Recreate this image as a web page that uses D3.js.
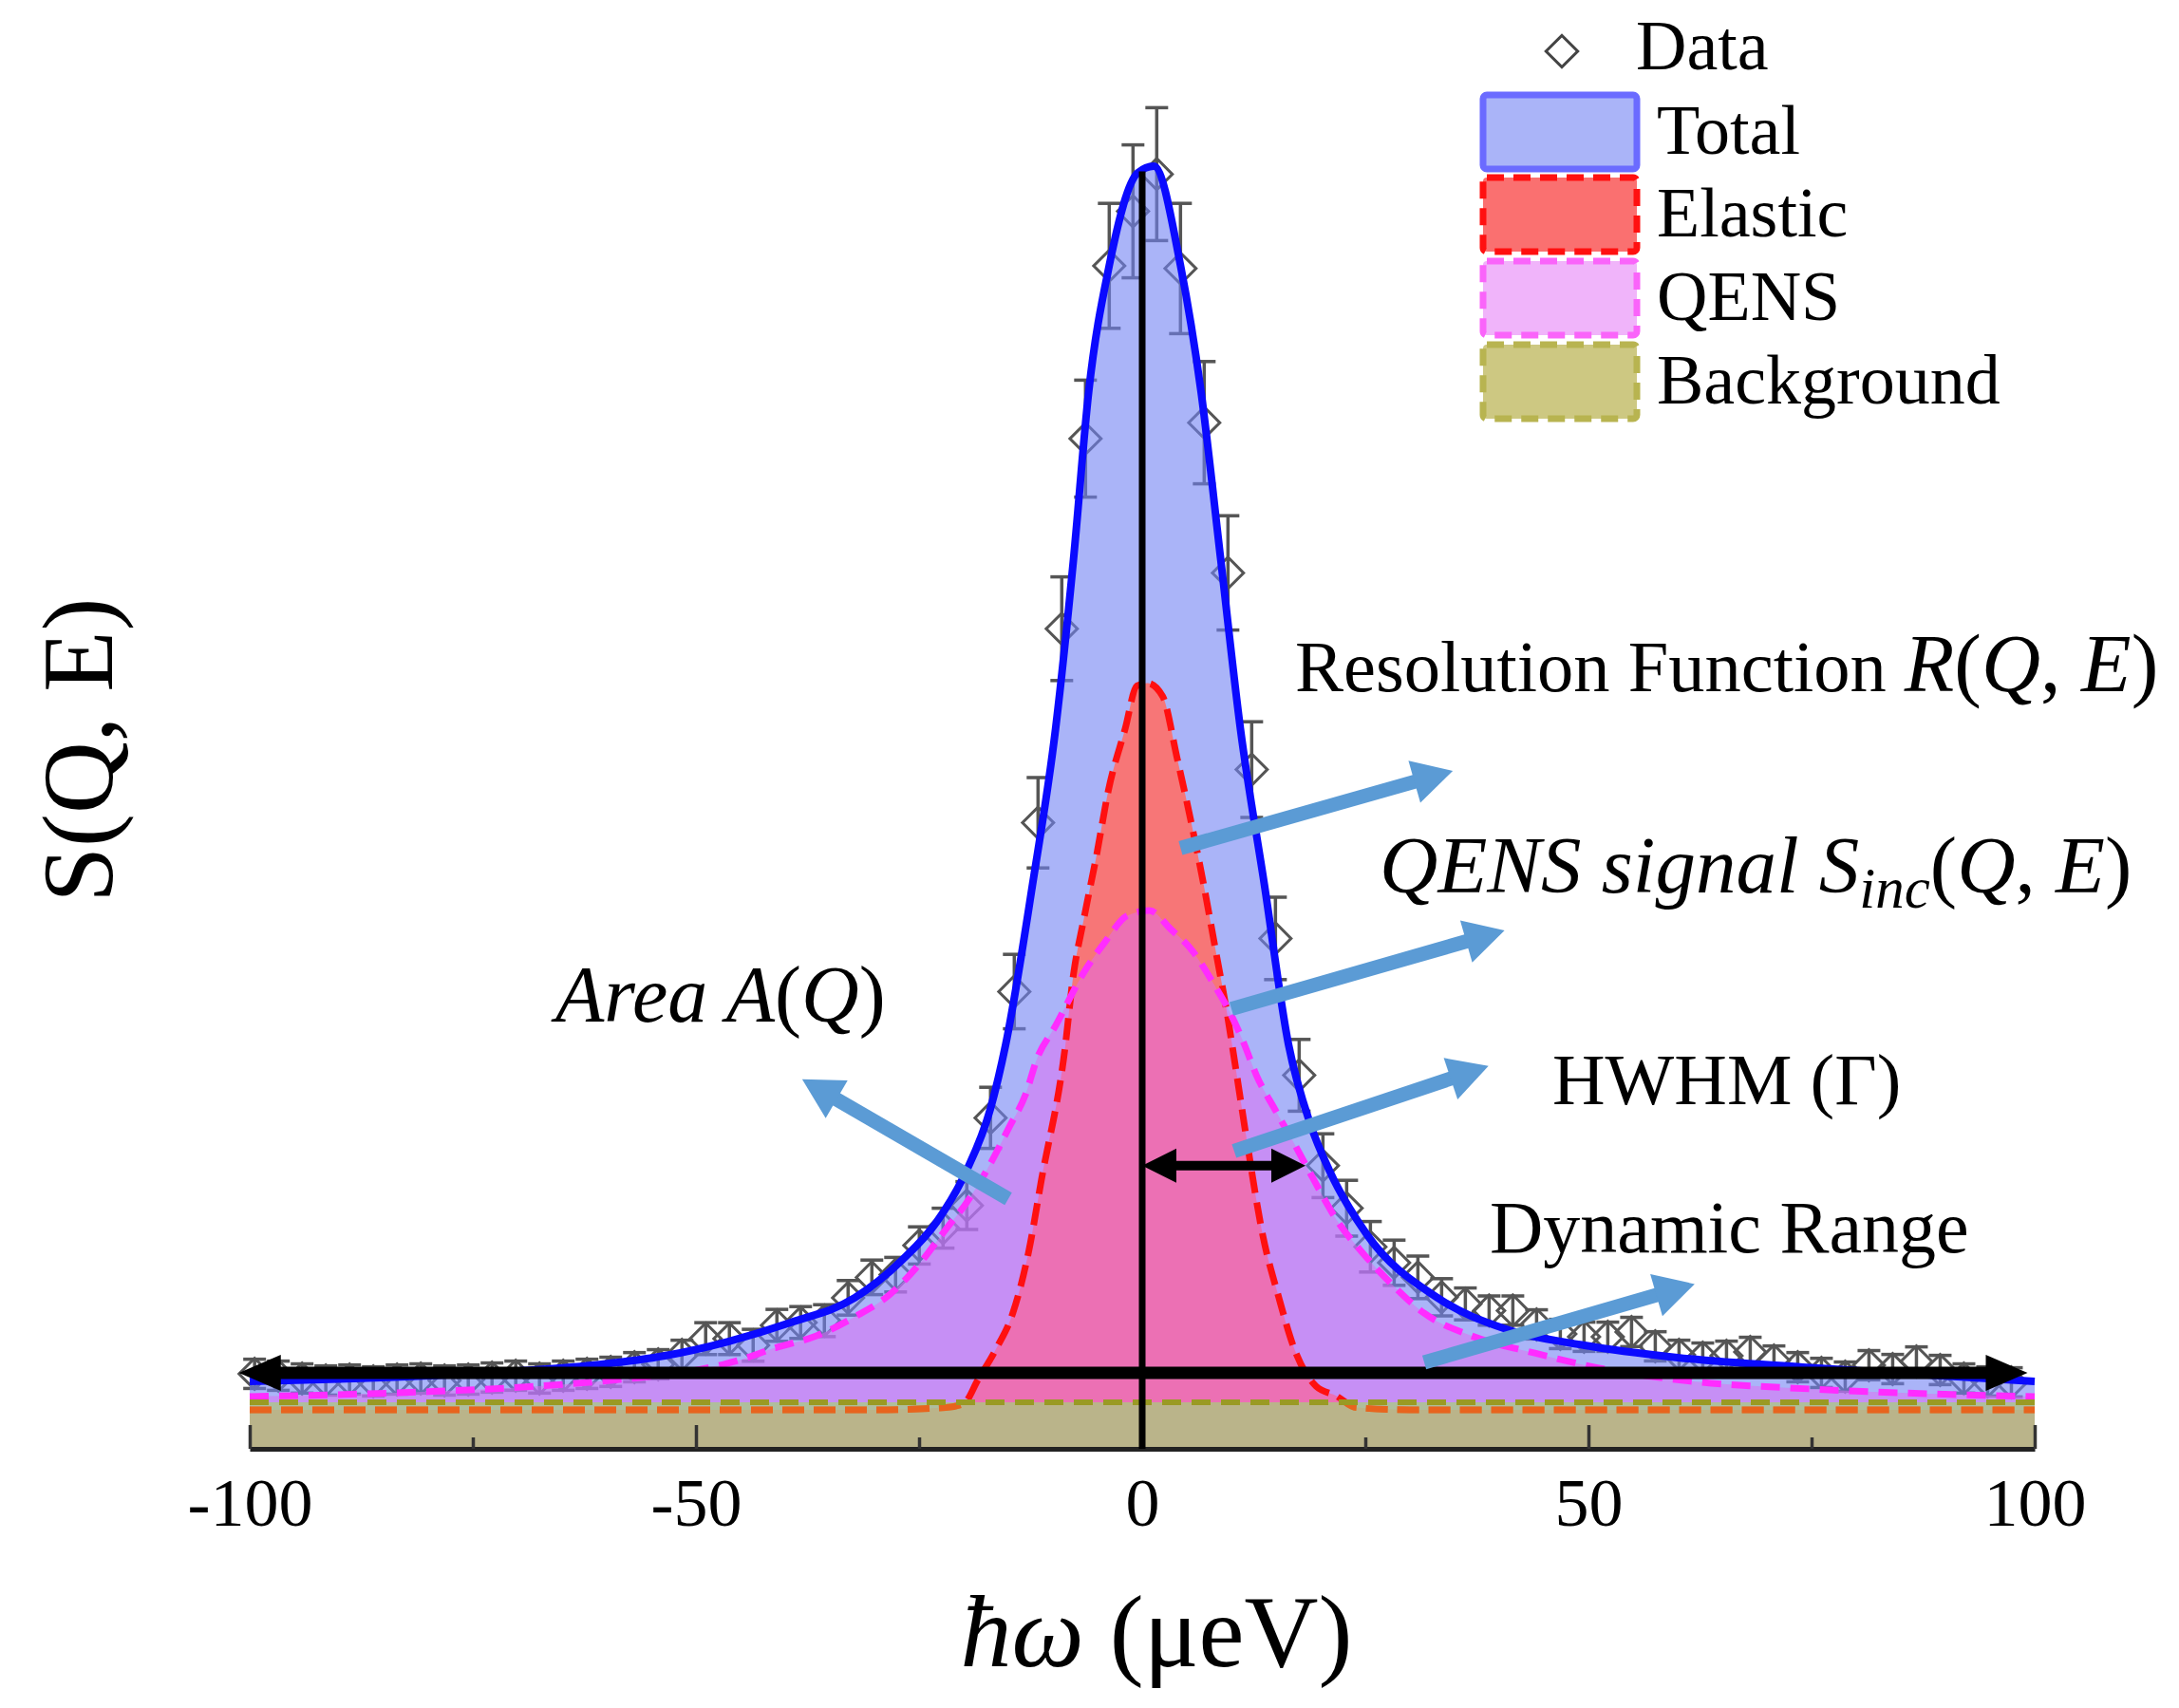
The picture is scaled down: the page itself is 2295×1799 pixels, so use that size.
<!DOCTYPE html>
<html>
<head>
<meta charset="utf-8" />
<title>QENS spectrum</title>
<style>
    body { margin: 0; background: #ffffff; }
    svg { display: block; }
    text { font-family: "Liberation Serif", "Times New Roman", serif; fill: #000; }
</style>
</head>
<body>
<div id="chart"></div>
<script src="https://cdnjs.cloudflare.com/ajax/libs/d3/7.8.5/d3.min.js"></script>
<script>
// measured points (energy transfer in ueV, intensity in arbitrary units)
var energy = [-99.45, -96.79, -94.13, -91.47, -88.81, -86.15, -83.49, -80.83, -78.17, -75.51,
    -72.85, -70.19, -67.53, -64.87, -62.21, -59.55, -56.89, -54.23, -51.57, -48.91,
    -46.25, -43.59, -40.93, -38.27, -35.61, -32.95, -30.29, -27.63, -24.97, -22.31,
    -19.65, -16.99, -14.33, -11.67, -9.01, -6.35, -3.69, -1.03, 1.63, 4.29,
    6.95, 9.61, 12.27, 14.93, 17.59, 20.25, 22.91, 25.57, 28.23, 30.89,
    33.55, 36.21, 38.87, 41.53, 44.19, 46.85, 49.51, 52.17, 54.83, 57.49,
    60.15, 62.81, 65.47, 68.13, 70.79, 73.45, 76.11, 78.77, 81.43, 84.09,
    86.75, 89.41, 92.07, 94.73, 97.39];
var counts = [5.64, 5.5, 5.29, 5.14, 5.21, 5.07, 5.21, 5.29, 5.14, 5.21,
    5.36, 5.5, 5.29, 5.5, 5.64, 5.79, 6.14, 6.36, 7.07, 8.29,
    8.29, 7.79, 9.29, 9.5, 9.64, 11.36, 12.9, 13.1, 15.3, 16.6,
    18.3, 24.9, 34.4, 47.1, 61.7, 76.0, 89.0, 93.1, 95.9, 88.8,
    77.2, 65.9, 51.1, 38.4, 28.1, 21.3, 18.1, 15.2, 14.0, 12.9,
    11.4, 10.9, 10.4, 10.4, 9.36, 8.64, 8.43, 8.43, 8.79, 7.71,
    7.07, 6.86, 7.0, 7.29, 6.64, 6.14, 5.71, 5.43, 6.29, 6.0,
    6.57, 5.93, 5.29, 5.07, 5.0];
var errors = [1.1, 1.1, 1.1, 1.1, 1.1, 1.1, 1.1, 1.1, 1.1, 1.1,
    1.1, 1.1, 1.1, 1.1, 1.1, 1.1, 1.1, 1.1, 1.1, 1.2,
    1.2, 1.2, 1.2, 1.2, 1.2, 1.3, 1.3, 1.3, 1.4, 1.5,
    1.8, 2.3, 2.8, 3.4, 3.9, 4.4, 4.7, 5.0, 5.0, 4.9,
    4.6, 4.3, 3.6, 3.1, 2.7, 2.4, 2.1, 1.9, 1.7, 1.6,
    1.4, 1.2, 1.1, 1.1, 1.1, 1.1, 1.1, 1.1, 1.1, 1.1,
    1.1, 1.1, 1.1, 1.1, 1.1, 1.1, 1.1, 1.1, 1.1, 1.1,
    1.1, 1.1, 1.1, 1.1, 1.1];

// fitted curves
var totalE = [-100, -80, -64, -60.6, -53.5, -46.4, -39.4, -32.2, -26.9, -23, -19.7, -17, -15.3, -12.3,
    -9.7, -7.7, -6.0, -3.7, -0.5, 1.3, 4.3, 6.6, 8.8, 11.0, 13.7, 16.4, 18.8, 21, 25.2, 33,
    40.8, 49.4, 60, 74, 88, 100];
var totalS = [5.07, 5.5, 6.14, 6.36, 7.0, 8.07, 9.5, 11.36, 14.2, 17.1, 20.9, 25.6, 30.4, 42.4,
    54.2, 66.9, 79.5, 89, 96, 96.5, 89, 79.5, 66.9, 54.2, 42.4, 30.4, 24.5, 20.9, 16.1, 11.4,
    9.0, 7.8, 6.86, 6.14, 5.57, 5.07];

var elasticE = [-100, -30, -22, -20, -18.4, -16.3, -14.5, -12.7, -11.3, -8.6, -7.8, -6.5, -5.1, -3.8,
    -1.9, -0.6, 0.6, 2.3, 3.9, 5.5, 6.9, 8.2, 9.5, 10.6, 11.7, 13.5, 15.3, 17.0, 19.5, 21.7,
    24, 30, 100];
var elasticS = [2.93, 2.93, 3.1, 3.4, 5.2, 7.6, 10.2, 14.9, 20.2, 30.4, 35.2, 40.0, 44.7, 49.5,
    54.2, 57.4, 57.6, 56.6, 52, 47.1, 42.4, 37.6, 32.8, 28.1, 23.3, 16.1, 11.4, 7.6, 4.7, 4.0,
    3.1, 2.93, 2.93];

var qensE = [-100, -80, -68, -58.8, -49.3, -45, -41.1, -36.5, -32.2, -28.3, -25.1, -21.9, -19.8, -17.3,
    -14.9, -13.1, -11.7, -9.9, -6.3, -4.2, -1.7, 0.8, 3.2, 5.7, 7.9, 10, 11.4, 12.8, 14.9, 17,
    19.1, 22, 24.5, 28.1, 31.6, 36.9, 44, 51, 61.7, 75, 90, 100];
var qensS = [3.93, 4.3, 4.7, 5.2, 6.0, 6.7, 7.6, 8.5, 9.93, 11.6, 13.8, 16.6, 18.4, 21.1,
    24.2, 26.6, 29.5, 31.6, 36.1, 38.1, 40.1, 40.5, 39.1, 37.4, 35.1, 32.6, 30.5, 28.1, 25.5, 23,
    20.4, 17.0, 14.9, 12.3, 10.2, 8.5, 7.2, 6.1, 5.07, 4.5, 4.1, 3.93];

var bgE = [-100, 100];
var bgS = [3.5, 3.5];

var xTicks = [-100, -50, 0, 50, 100];
var xMinorTicks = [-75, -25, 25, 75];
var hwhm = 18.3;

var legendNames = ["Data", "Total", "Elastic", "QENS", "Background"];
var legendFills = ["none", "#aab4f8", "#fa7070", "#f0b4fa", "#cdc882"];
var legendStrokes = ["#444", "#6b6bff", "#ff1010", "#fa64fa", "#b8b450"];

var width = 2295, height = 1799;

var svg = d3.select("#chart").append("svg")
    .attr("width", width)
    .attr("height", height)
    .attr("viewBox", "0 0 " + width + " " + height);

var x = d3.scaleLinear().domain([-100, 100]).range([263, 2143]);
var y = d3.scaleLinear().domain([0, 100]).range([1526, 126]);

function zipSeries(es, ss) {
    return es.map(function (e, i) { return { e: e, s: ss[i] }; });
}
var total = zipSeries(totalE, totalS);
var elastic = zipSeries(elasticE, elasticS);
var qens = zipSeries(qensE, qensS);
var bg = zipSeries(bgE, bgS);
var points = energy.map(function (e, i) { return { e: e, s: counts[i], err: errors[i] }; });

var area = d3.area()
    .x(function (d) { return x(d.e); })
    .y0(y(0))
    .y1(function (d) { return y(d.s); })
    .curve(d3.curveMonotoneX);
var line = d3.line()
    .x(function (d) { return x(d.e); })
    .y(function (d) { return y(d.s); })
    .curve(d3.curveMonotoneX);

// data with error bars (under the fills, so they fade inside)
var gData = svg.append("g").attr("stroke", "#555").attr("fill", "none");
gData.selectAll("line.err")
    .data(points).enter().append("line")
    .attr("class", "err")
    .attr("x1", function (d) { return x(d.e); })
    .attr("x2", function (d) { return x(d.e); })
    .attr("y1", function (d) { return y(d.s + d.err); })
    .attr("y2", function (d) { return y(d.s - d.err); })
    .attr("stroke-width", 3.5);
gData.selectAll("line.capT")
    .data(points).enter().append("line")
    .attr("x1", function (d) { return x(d.e) - 12; })
    .attr("x2", function (d) { return x(d.e) + 12; })
    .attr("y1", function (d) { return y(d.s + d.err); })
    .attr("y2", function (d) { return y(d.s + d.err); })
    .attr("stroke-width", 3.5);
gData.selectAll("line.capB")
    .data(points).enter().append("line")
    .attr("x1", function (d) { return x(d.e) - 12; })
    .attr("x2", function (d) { return x(d.e) + 12; })
    .attr("y1", function (d) { return y(d.s - d.err); })
    .attr("y2", function (d) { return y(d.s - d.err); })
    .attr("stroke-width", 3.5);
var diamond = d3.symbol().type(d3.symbolSquare).size(540);
gData.selectAll("path.pt")
    .data(points).enter().append("path")
    .attr("d", diamond)
    .attr("transform", function (d) { return "translate(" + x(d.e) + "," + y(d.s) + ") rotate(45)"; })
    .attr("stroke-width", 3);

// component fills
svg.append("path").datum(total).attr("d", area).attr("fill", "rgb(113,130,243)").attr("fill-opacity", 0.6);
svg.append("path").datum(elastic).attr("d", area).attr("fill", "rgb(255,111,104)").attr("fill-opacity", 0.9);
svg.append("path").datum(qens).attr("d", area).attr("fill", "rgb(225,105,241)").attr("fill-opacity", 0.5);

svg.append("path").datum(elastic).attr("d", line)
    .attr("fill", "none").attr("stroke", "#ff1010").attr("stroke-width", 7).attr("stroke-dasharray", "23,10");
svg.append("path").datum(qens).attr("d", line)
    .attr("fill", "none").attr("stroke", "#ff2cff").attr("stroke-width", 7).attr("stroke-dasharray", "20,11");

// background band
svg.append("clipPath").attr("id", "bgclip")
    .append("path").datum(bg).attr("d", area);
svg.append("path").datum(bg).attr("d", area).attr("fill", "rgb(165,210,120)").attr("fill-opacity", 0.7);
svg.append("path").datum(elastic).attr("d", line).attr("clip-path", "url(#bgclip)")
    .attr("fill", "none").attr("stroke", "#e8641e").attr("stroke-width", 7).attr("stroke-dasharray", "23,10");
svg.append("path").datum(bg).attr("d", line)
    .attr("fill", "none").attr("stroke", "#9a9a24").attr("stroke-width", 6).attr("stroke-dasharray", "20,11");

// total fit line
svg.append("path").datum(total).attr("d", line)
    .attr("fill", "none").attr("stroke", "#0a0aff").attr("stroke-width", 8);

// axis
var axis = svg.append("g")
    .attr("transform", "translate(0," + y(0) + ")")
    .call(d3.axisBottom(x).tickValues(xTicks).tickSize(-25).tickSizeOuter(0).tickPadding(30)
        .tickFormat(function (d) { return String(d); }));
axis.select(".domain").attr("stroke", "#222").attr("stroke-width", 5);
axis.selectAll(".tick line").attr("stroke", "#333").attr("stroke-width", 3.5);
axis.selectAll(".tick text")
    .attr("font-family", "Liberation Serif")
    .attr("font-size", 72)
    .attr("fill", "#000");
var minor = svg.append("g")
    .attr("transform", "translate(0," + y(0) + ")")
    .call(d3.axisBottom(x).tickValues(xMinorTicks).tickSize(-12).tickSizeOuter(0).tickFormat(""));
minor.select(".domain").remove();
minor.selectAll(".tick line").attr("stroke", "#333").attr("stroke-width", 3.5);

// arrow helper: straight shaft with triangular head(s)
function arrow(g, x1, y1, x2, y2, color, w, headL, headW, both) {
    var dx = x2 - x1, dy = y2 - y1, len = Math.sqrt(dx * dx + dy * dy);
    var ux = dx / len, uy = dy / len, px = -uy, py = ux;
    var sx1 = both ? x1 + ux * headL * 0.8 : x1, sy1 = both ? y1 + uy * headL * 0.8 : y1;
    g.append("line")
        .attr("x1", sx1).attr("y1", sy1)
        .attr("x2", x2 - ux * headL * 0.8).attr("y2", y2 - uy * headL * 0.8)
        .attr("stroke", color).attr("stroke-width", w);
    function head(tx, ty, dirx, diry) {
        var bx = tx - dirx * headL, by = ty - diry * headL;
        g.append("path")
            .attr("d", "M" + tx + "," + ty + "L" + (bx + px * headW) + "," + (by + py * headW) +
                "L" + (bx - px * headW) + "," + (by - py * headW) + "Z")
            .attr("fill", color);
    }
    head(x2, y2, ux, uy);
    if (both) head(x1, y1, -ux, -uy);
}

var gArrows = svg.append("g");
// zero line and dynamic range
gArrows.append("line")
    .attr("x1", x(0)).attr("x2", x(0))
    .attr("y1", y(96.1)).attr("y2", y(0))
    .attr("stroke", "#000").attr("stroke-width", 7);
arrow(gArrows, x(-101.2), y(5.71), x(99.2), y(5.71), "#000", 13, 44, 19, true);
arrow(gArrows, x(0), y(21.3), x(hwhm), y(21.3), "#000", 10, 36, 18, true);

// callout arrows
var callouts = [
    [4.3, 45.2, 34.8, 51.0],
    [10.0, 33.1, 40.6, 39.0],
    [10.3, 22.4, 38.8, 28.8],
    [31.6, 6.5, 61.9, 12.4],
    [-15.0, 18.8, -38.1, 27.8]
];
callouts.forEach(function (c) {
    arrow(gArrows, x(c[0]), y(c[1]), x(c[2]), y(c[3]), "#5b9bd5", 15, 42, 23, false);
});

// annotations
var fs = 76.5, fsi = 86;
var t1 = svg.append("text").attr("x", 1364).attr("y", 728).attr("font-size", fs);
t1.append("tspan").text("Resolution Function ");
t1.append("tspan").attr("font-style", "italic").attr("font-size", fsi).text("R");
t1.append("tspan").attr("font-size", fsi).text("(");
t1.append("tspan").attr("font-style", "italic").attr("font-size", fsi).text("Q");
t1.append("tspan").attr("font-size", fsi).text(", ");
t1.append("tspan").attr("font-style", "italic").attr("font-size", fsi).text("E");
t1.append("tspan").attr("font-size", fsi).text(")");

var t2 = svg.append("text").attr("x", 1453).attr("y", 940).attr("font-size", 85);
t2.append("tspan").attr("font-style", "italic").text("QENS signal S");
t2.append("tspan").attr("font-style", "italic").attr("font-size", 61).attr("dy", 16).text("inc");
t2.append("tspan").attr("dy", -16).text("(");
t2.append("tspan").attr("font-style", "italic").text("Q");
t2.append("tspan").text(", ");
t2.append("tspan").attr("font-style", "italic").text("E");
t2.append("tspan").text(")");

var t3 = svg.append("text").attr("x", 585).attr("y", 1076).attr("font-size", 84);
t3.append("tspan").attr("font-style", "italic").text("Area A");
t3.append("tspan").text("(");
t3.append("tspan").attr("font-style", "italic").text("Q");
t3.append("tspan").text(")");

svg.append("text").attr("x", 1635).attr("y", 1163).attr("font-size", 77).text("HWHM (\u0393)");
svg.append("text").attr("x", 1569).attr("y", 1319).attr("font-size", 78).text("Dynamic Range");

// axis titles
var xt = svg.append("text").attr("x", 1218).attr("y", 1755).attr("font-size", 108).attr("text-anchor", "middle");
xt.append("tspan").attr("font-style", "italic").text("\u0127\u03c9");
xt.append("tspan").text(" (\u03bceV)");

svg.append("text")
    .attr("transform", "translate(118,790) rotate(-90)")
    .attr("text-anchor", "middle")
    .attr("font-size", 105)
    .text("S(Q, E)");

// legend
var lg = svg.append("g");
lg.append("path")
    .attr("d", d3.symbol().type(d3.symbolSquare).size(560))
    .attr("transform", "translate(1645,54) rotate(45)")
    .attr("fill", legendFills[0]).attr("stroke", legendStrokes[0]).attr("stroke-width", 3);
lg.append("text").attr("x", 1723).attr("y", 73).attr("font-size", 74).text(legendNames[0]);
var swatchY = [100, 187, 275, 363];
var dashes = [null, "18,10", "18,10", "18,10"];
for (var i = 1; i < legendNames.length; i++) {
    lg.append("rect")
        .attr("x", 1562).attr("y", swatchY[i - 1])
        .attr("width", 162).attr("height", 78)
        .attr("rx", 4)
        .attr("fill", legendFills[i])
        .attr("stroke", legendStrokes[i])
        .attr("stroke-width", 7)
        .attr("stroke-dasharray", dashes[i - 1]);
    lg.append("text")
        .attr("x", 1745).attr("y", swatchY[i - 1] + 62)
        .attr("font-size", 74)
        .text(legendNames[i]);
}
</script>
</body>
</html>
